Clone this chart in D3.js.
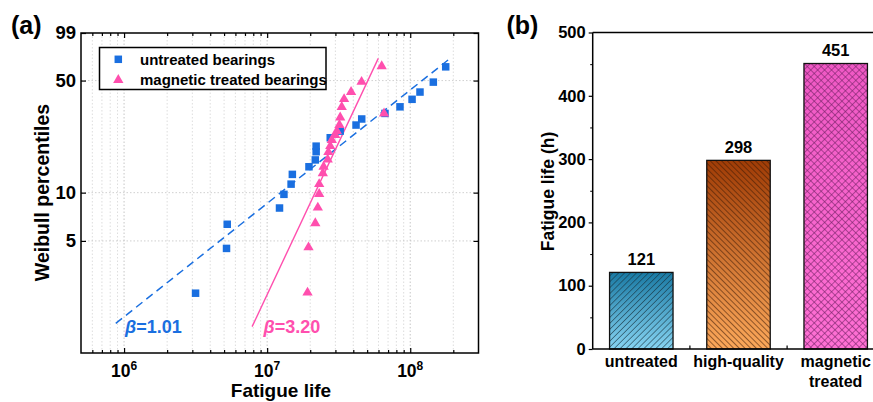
<!DOCTYPE html>
<html><head><meta charset="utf-8">
<script src="https://cdn.jsdelivr.net/npm/d3@7"></script>
<style>
html,body{margin:0;padding:0;background:#fff;}
svg{display:block;font-family:"Liberation Sans",Arial,Helvetica,sans-serif;font-weight:bold;}
</style></head><body>
<svg id="chart" width="873" height="402"></svg>
<script>
// ---- (a) Weibull plot: fatigue life (cycles) vs. Weibull percentile (%) ----
const untreatedLife = [3.16e6, 5.2e6, 5.26e6, 1.22e7, 1.31e7, 1.47e7, 1.5e7, 1.96e7, 2.17e7, 2.2e7, 2.2e7,
  2.76e7, 3.24e7, 4.18e7, 4.58e7, 6.66e7, 8.48e7, 1.03e8, 1.17e8, 1.45e8, 1.77e8];
const untreatedPct = [2.36, 4.49, 6.35, 8.02, 9.76, 11.3, 13.0, 14.5, 16.0, 18.0, 19.5,
  22.0, 24.2, 26.4, 28.8, 31.2, 34.3, 38.2, 42.4, 48.9, 60.9];
const treatedLife = [1.915e7, 1.946e7, 2.17e7, 2.26e7, 2.31e7, 2.31e7, 2.45e7, 2.48e7, 2.65e7, 2.68e7, 2.76e7,
  2.83e7, 2.99e7, 3.07e7, 3.2e7, 3.24e7, 6.56e7, 3.32e7, 3.45e7, 3.86e7, 4.57e7, 6.32e7];
const treatedPct = [2.38, 4.56, 6.44, 8.07, 9.8, 11.3, 13.2, 14.5, 16.1, 17.9, 19.5,
  21.3, 22.9, 24.2, 26.4, 29.4, 31.2, 34.2, 38.3, 42.4, 49.1, 61.5];
// fitted Weibull lines (end points)
const untreatedFitLife = [8.75e5, 1.94e8];
const untreatedFitPct = [1.53, 69.8];
const treatedFitLife = [7.85e6, 5.98e7];
const treatedFitPct = [1.46, 68.8];
const shapeLabels = ["1.01", "3.20"];
const seriesNames = ["untreated bearings", "magnetic treated bearings"];
const xMajorTicks = [1e6, 1e7, 1e8];
const xTickExp = ["6", "7", "8"];
const yTicks = [5, 10, 50, 99];

// ---- (b) mean fatigue life per bearing type ----
const categories = ["untreated", "high-quality", "magnetic treated"];
const fatigueHours = [121, 298, 451];
const yTicksB = [0, 100, 200, 300, 400, 500];
const yMinorB = [50, 150, 250, 350, 450];

const blue = "#1a6fe0", pink = "#ff4fae";
const svg = d3.select("#chart");
svg.append("rect").attr("width", 873).attr("height", 402).attr("fill", "#fff");

const defs = svg.append("defs");
function grad(id, c0, c1) {
  const g = defs.append("linearGradient").attr("id", id)
    .attr("x1", 0).attr("y1", 0).attr("x2", 0).attr("y2", 1);
  g.append("stop").attr("offset", 0).attr("stop-color", c0);
  g.append("stop").attr("offset", 1).attr("stop-color", c1);
}
grad("gUntreated", "#1a7aa4", "#86d3f1");
grad("gHigh", "#a03c06", "#fca85a");
grad("gMag", "#ef58c4", "#ff70d4");
function hatch(id, angle, gap, color, cross) {
  const p = defs.append("pattern").attr("id", id).attr("patternUnits", "userSpaceOnUse")
    .attr("width", gap).attr("height", gap).attr("patternTransform", `rotate(${angle})`);
  p.append("line").attr("x1", 0).attr("y1", -1).attr("x2", 0).attr("y2", gap + 1)
    .attr("stroke", color).attr("stroke-width", 1.1);
  if (cross) p.append("line").attr("x1", -1).attr("y1", 0).attr("x2", gap + 1).attr("y2", 0)
    .attr("stroke", color).attr("stroke-width", 1.1);
}
hatch("hUntreated", 45, 4.2, "#16323f", false);
hatch("hHigh", -45, 4.0, "#3c1804", false);
hatch("hMag", 45, 4.9, "#6e1f62", true);

// ================= panel (a) =================
const xA = d3.scaleLog().domain([5e5, 3e8]).range([81, 478.5]);
const yA = d3.scaleLog().domain([1, 99]).range([353, 33]);
const gA = svg.append("g");

// minor / major grid positions on the x axis
const xMinor = [];
for (let e = 5; e <= 8; e++) for (let m = 2; m <= 9; m++) {
  const v = m * Math.pow(10, e);
  if (v > xA.domain()[0] && v < xA.domain()[1]) xMinor.push(v);
}
gA.append("g").selectAll("line").data(xMinor.concat(xMajorTicks)).join("line")
  .attr("x1", d => xA(d)).attr("x2", d => xA(d)).attr("y1", yA(99)).attr("y2", yA(1))
  .attr("stroke", d => xMajorTicks.includes(d) ? "#b8b8b8" : "#d4d4d4")
  .attr("stroke-width", 0.8).attr("stroke-dasharray", "1.5,2");
gA.append("g").selectAll("line").data(yTicks.slice(0, 3)).join("line")
  .attr("x1", xA.range()[0]).attr("x2", xA.range()[1]).attr("y1", d => yA(d)).attr("y2", d => yA(d))
  .attr("stroke", "#c4c4c4").attr("stroke-width", 0.8).attr("stroke-dasharray", "1.5,2");

// axes with inward ticks
function styleAxis(g) { g.select(".domain").remove(); g.selectAll("line").attr("stroke", "#000").attr("stroke-width", 1.2); }
gA.append("g").attr("transform", `translate(0,${yA(1)})`)
  .call(d3.axisBottom(xA).tickValues(xMajorTicks).tickSizeInner(-5).tickSizeOuter(0).tickFormat("")).call(styleAxis);
gA.append("g").attr("transform", `translate(0,${yA(1)})`)
  .call(d3.axisBottom(xA).tickValues(xMinor).tickSizeInner(-3).tickSizeOuter(0).tickFormat("")).call(styleAxis);
gA.append("g").attr("transform", `translate(0,${yA(99)})`)
  .call(d3.axisTop(xA).tickValues(xMajorTicks).tickSizeInner(-5).tickSizeOuter(0).tickFormat("")).call(styleAxis);
gA.append("g").attr("transform", `translate(0,${yA(99)})`)
  .call(d3.axisTop(xA).tickValues(xMinor).tickSizeInner(-3).tickSizeOuter(0).tickFormat("")).call(styleAxis);
const yAxisA = gA.append("g").attr("transform", `translate(${xA.range()[0]},0)`)
  .call(d3.axisLeft(yA).tickValues(yTicks).tickSizeInner(-5).tickSizeOuter(0).tickPadding(5).tickFormat(d3.format("d")));
yAxisA.call(styleAxis);
yAxisA.selectAll("text").attr("font-size", 18.5).attr("font-weight", "bold").attr("fill", "#000").attr("font-family", null);
gA.append("g").attr("transform", `translate(${xA.range()[1]},0)`)
  .call(d3.axisRight(yA).tickValues(yTicks).tickSizeInner(-5).tickSizeOuter(0).tickFormat("")).call(styleAxis);
gA.append("rect").attr("x", xA.range()[0]).attr("y", yA(99))
  .attr("width", xA.range()[1] - xA.range()[0]).attr("height", yA(1) - yA(99))
  .attr("fill", "none").attr("stroke", "#000").attr("stroke-width", 1.5);

// x tick labels as powers of ten
const xl = gA.append("g").selectAll("text").data(xMajorTicks).join("text")
  .attr("x", d => xA(d)).attr("y", 377).attr("text-anchor", "middle").attr("font-size", 17.5);
xl.append("tspan").text("10");
xl.append("tspan").attr("dy", -7).attr("font-size", 12).text((d, i) => xTickExp[i]);

gA.append("text").attr("x", 281).attr("y", 397).attr("text-anchor", "middle").attr("font-size", 19).text("Fatigue life");
gA.append("text").attr("transform", "translate(48.5,192.5) rotate(-90)").attr("text-anchor", "middle")
  .attr("font-size", 19.5).text("Weibull percentiles");
gA.append("text").attr("x", 11).attr("y", 34).attr("font-size", 25).text("(a)");

// fitted lines
const line = d3.line().x(d => xA(d[0])).y(d => yA(d[1]));
gA.append("path").datum(d3.zip(untreatedFitLife, untreatedFitPct)).attr("d", line)
  .attr("fill", "none").attr("stroke", blue).attr("stroke-width", 1.5).attr("stroke-dasharray", "8,5");
gA.append("path").datum(d3.zip(treatedFitLife, treatedFitPct)).attr("d", line)
  .attr("fill", "none").attr("stroke", pink).attr("stroke-width", 1.4);

// data points
const sq = 7.5;
gA.append("g").selectAll("rect").data(d3.zip(untreatedLife, untreatedPct)).join("rect")
  .attr("x", d => xA(d[0]) - sq / 2).attr("y", d => yA(d[1]) - sq / 2)
  .attr("width", sq).attr("height", sq).attr("fill", blue);
const tri = d3.symbol(d3.symbolTriangle, 46);
gA.append("g").selectAll("path").data(d3.zip(treatedLife, treatedPct)).join("path")
  .attr("transform", d => `translate(${xA(d[0])},${yA(d[1])})`).attr("d", tri).attr("fill", pink);

// shape parameter annotations
function beta(x, color, val) {
  const t = gA.append("text").attr("x", x).attr("y", 333).attr("font-size", 18).attr("fill", color);
  t.append("tspan").attr("font-style", "italic").text("\u03b2");
  t.append("tspan").text("=" + val);
}
beta(125, blue, shapeLabels[0]);
beta(263.5, pink, shapeLabels[1]);

// legend
const lg = gA.append("g");
lg.append("rect").attr("x", 99.5).attr("y", 47.5).attr("width", 226.5).attr("height", 42)
  .attr("fill", "#fff").attr("stroke", "#000").attr("stroke-width", 1.5);
lg.append("rect").attr("x", 118.3 - sq / 2).attr("y", 59.3 - sq / 2).attr("width", sq).attr("height", sq).attr("fill", blue);
lg.append("path").attr("transform", "translate(118.3,80)").attr("d", tri).attr("fill", pink);
lg.append("text").attr("x", 140).attr("y", 64.5).attr("font-size", 15).text(seriesNames[0]);
lg.append("text").attr("x", 140).attr("y", 84.5).attr("font-size", 15).text(seriesNames[1]);

// ================= panel (b) =================
const yB = d3.scaleLinear().domain([0, 500]).range([349, 32.5]);
const xB = d3.scaleBand().domain(categories).range([592.7, 884.3]).paddingInner(0.347).paddingOuter(0.1735);
const gB = svg.append("g");
const fills = ["gUntreated", "gHigh", "gMag"], hatches = ["hUntreated", "hHigh", "hMag"];
const bar = gB.selectAll("g.bar").data(categories).join("g").attr("class", "bar");
bar.append("rect").attr("x", d => xB(d)).attr("width", xB.bandwidth())
  .attr("y", (d, i) => yB(fatigueHours[i])).attr("height", (d, i) => yB(0) - yB(fatigueHours[i]))
  .attr("fill", (d, i) => `url(#${fills[i]})`);
bar.append("rect").attr("x", d => xB(d)).attr("width", xB.bandwidth())
  .attr("y", (d, i) => yB(fatigueHours[i])).attr("height", (d, i) => yB(0) - yB(fatigueHours[i]))
  .attr("fill", (d, i) => `url(#${hatches[i]})`).attr("stroke", "#111").attr("stroke-width", 1.3);
bar.append("text").attr("x", d => xB(d) + xB.bandwidth() / 2).attr("y", (d, i) => yB(fatigueHours[i]) - 7.5)
  .attr("text-anchor", "middle").attr("font-size", 16.5).text((d, i) => fatigueHours[i]);

// axes
const yAxisB = gB.append("g").attr("transform", `translate(${xB.range()[0]},0)`)
  .call(d3.axisLeft(yB).tickValues(yTicksB).tickSizeInner(4).tickSizeOuter(0).tickPadding(3));
yAxisB.select(".domain").remove();
yAxisB.selectAll("line").attr("stroke", "#000").attr("stroke-width", 1.2);
yAxisB.selectAll("text").attr("font-size", 16.5).attr("font-weight", "bold").attr("fill", "#000").attr("font-family", null);
gB.append("g").attr("transform", `translate(${xB.range()[0]},0)`)
  .call(d3.axisLeft(yB).tickValues(yMinorB).tickSizeInner(2.5).tickSizeOuter(0).tickFormat(""))
  .call(g => { g.select(".domain").remove(); g.selectAll("line").attr("stroke", "#000"); });
gB.append("line").attr("x1", xB.range()[0]).attr("x2", xB.range()[0]).attr("y1", yB(500)).attr("y2", yB(0))
  .attr("stroke", "#000").attr("stroke-width", 1.5);
gB.append("line").attr("x1", xB.range()[0]).attr("x2", 873).attr("y1", yB(500)).attr("y2", yB(500))
  .attr("stroke", "#000").attr("stroke-width", 1.5);
gB.append("line").attr("x1", xB.range()[0]).attr("x2", 873).attr("y1", yB(0)).attr("y2", yB(0))
  .attr("stroke", "#000").attr("stroke-width", 1.5);
// category separators on the x axis
const bounds = categories.slice(1).map(c => xB(c) - xB.step() * xB.paddingInner() / 2);
gB.append("g").selectAll("line").data(bounds).join("line")
  .attr("x1", d => d).attr("x2", d => d).attr("y1", yB(0)).attr("y2", yB(0) - 3.5)
  .attr("stroke", "#000").attr("stroke-width", 1.2);
// category labels (split onto lines)
const cl = gB.append("g").selectAll("text").data(categories).join("text")
  .attr("x", d => xB(d) + xB.bandwidth() / 2).attr("y", 366.5).attr("text-anchor", "middle").attr("font-size", 16);
cl.selectAll("tspan").data(d => d === "high-quality" ? [d] : d.split(" ")).join("tspan")
  .attr("x", function () { return this.parentNode.getAttribute("x"); })
  .attr("dy", (d, i) => i ? 20 : 0).text(d => d);
gB.append("text").attr("transform", "translate(554,191.5) rotate(-90)").attr("text-anchor", "middle")
  .attr("font-size", 17.5).text("Fatigue life (h)");
gB.append("text").attr("x", 506.5).attr("y", 34).attr("font-size", 25).text("(b)");
</script></body></html>
